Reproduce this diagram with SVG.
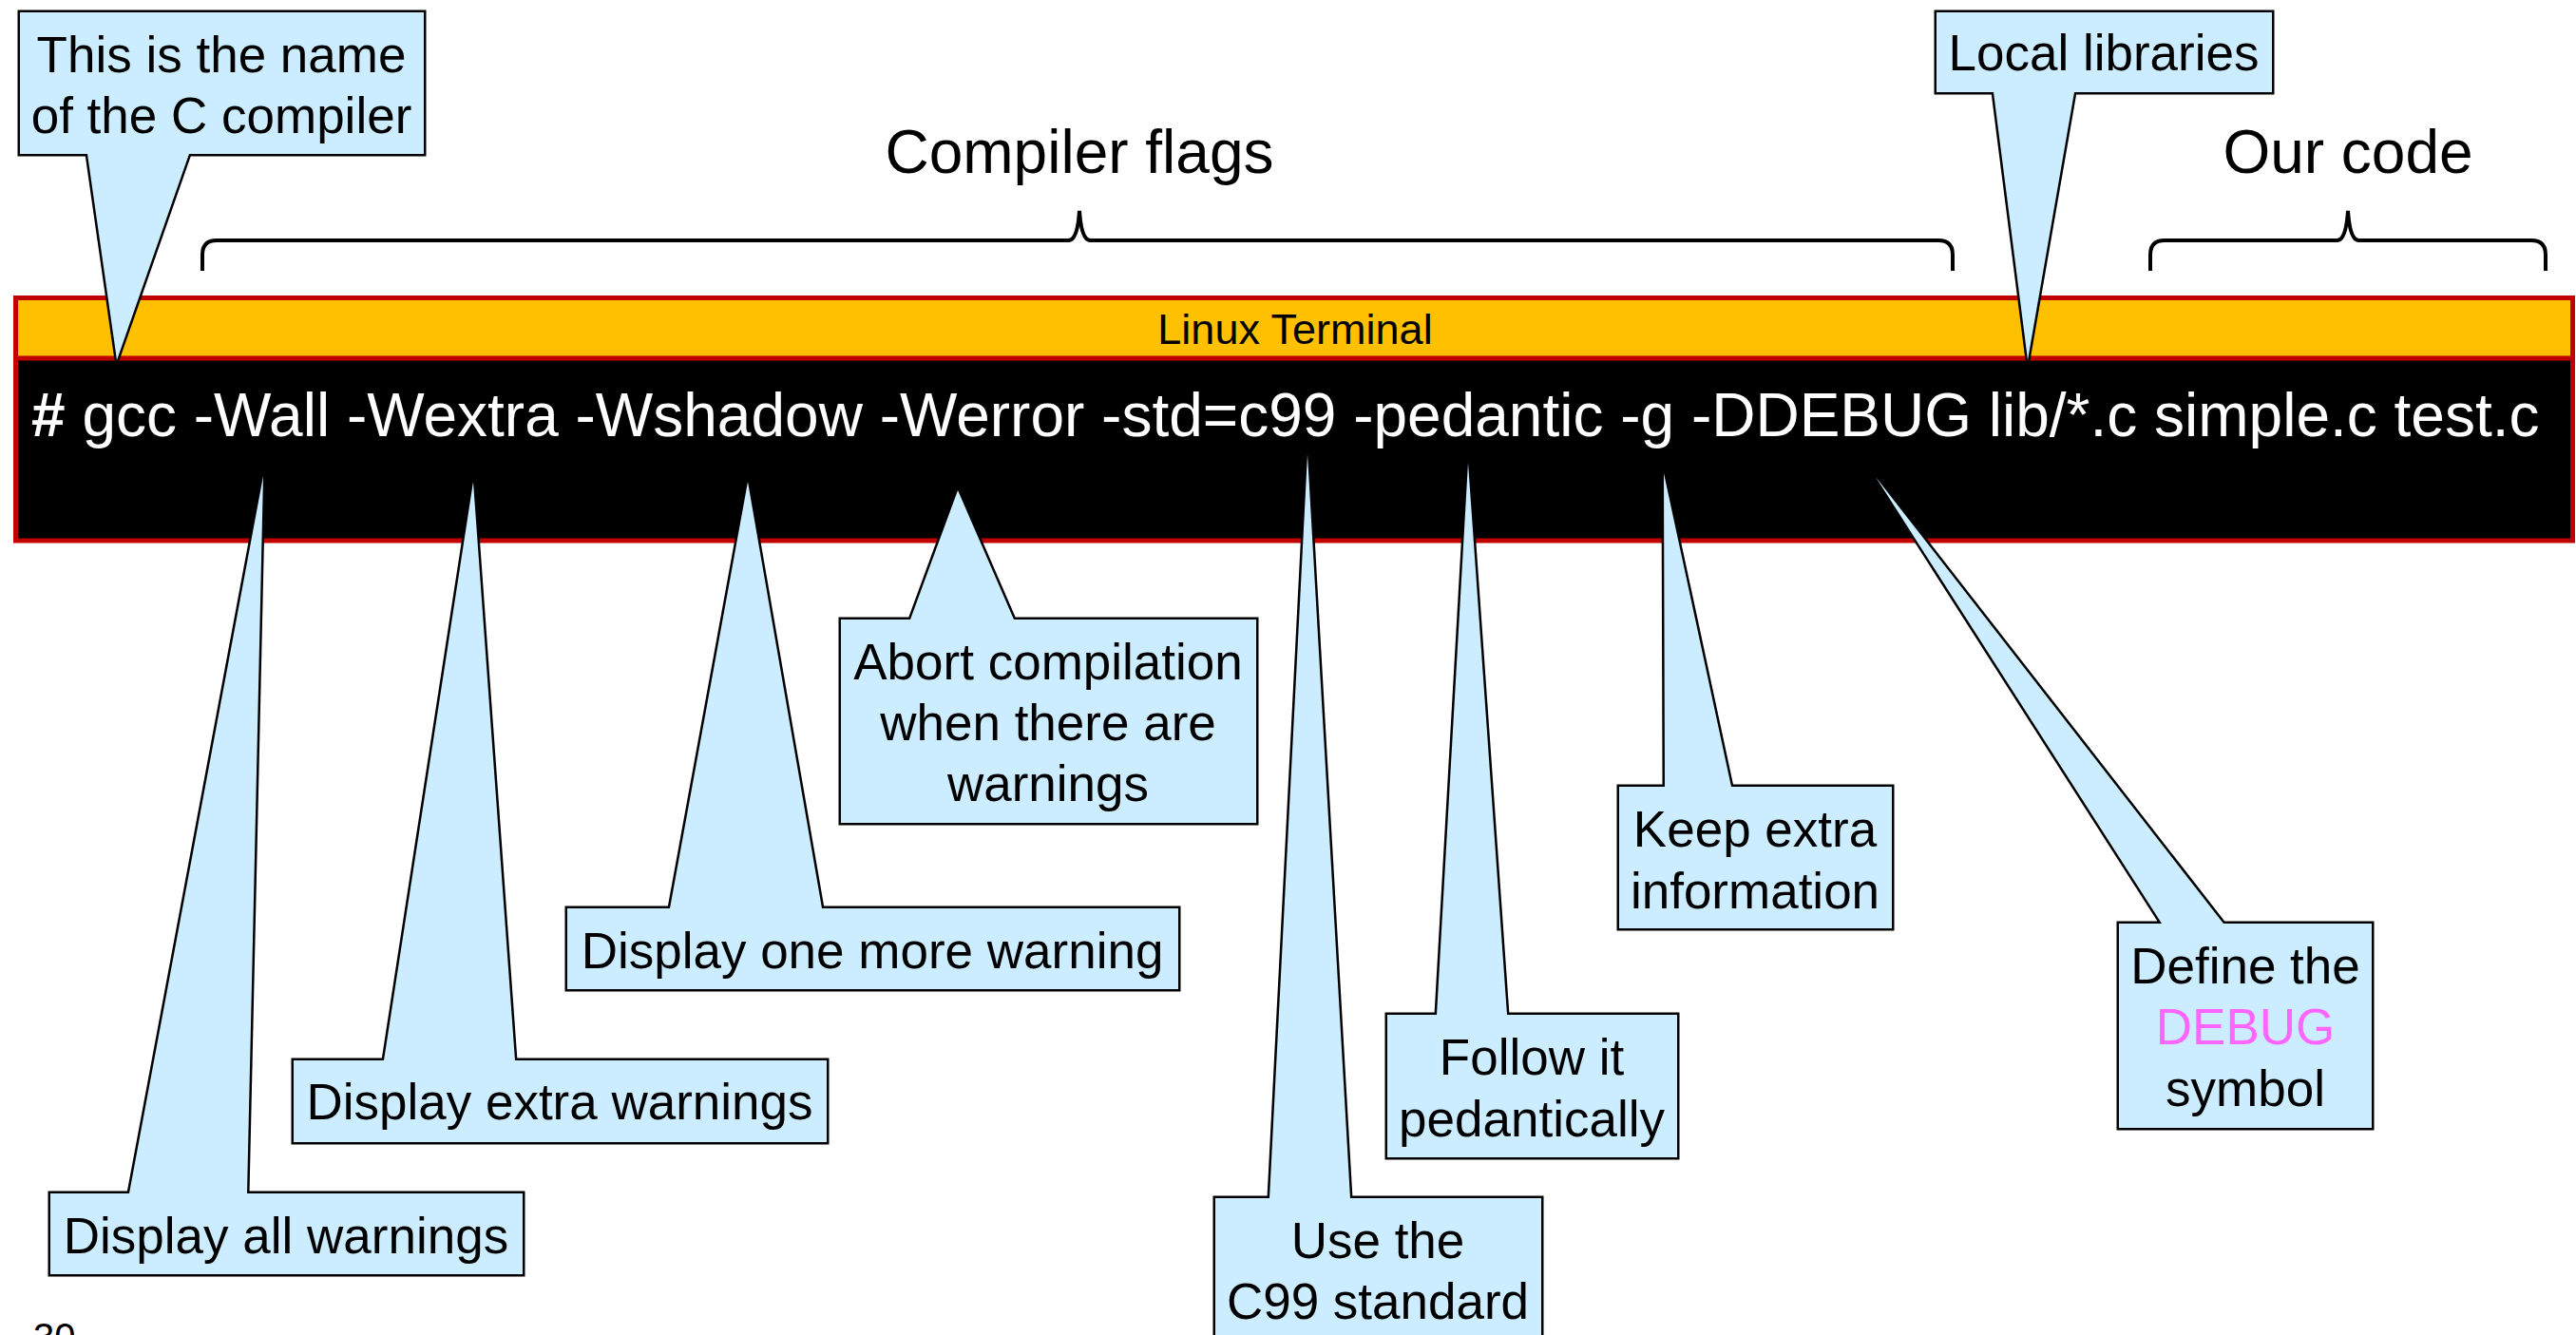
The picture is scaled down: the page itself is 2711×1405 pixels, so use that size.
<svg xmlns="http://www.w3.org/2000/svg" width="2711" height="1405" viewBox="0 0 2711 1405">
  <style>
    /* stroke painted under the fill so the narrow tail tips keep their colour */
    .callout { fill: #CCECFF; stroke: #000000; stroke-width: 5; stroke-linejoin: miter; paint-order: stroke; }
    .note { font-family: "Liberation Sans", Arial, sans-serif; font-size: 53px; fill: #000000; text-anchor: middle; }
    .heading { font-family: "Liberation Sans", Arial, sans-serif; font-size: 64px; fill: #000000; text-anchor: middle; }
    .brace { fill: none; stroke: #000000; stroke-width: 4; stroke-linecap: butt; stroke-linejoin: miter; stroke-miterlimit: 12; }
    .cmd { font-family: "Liberation Sans", Arial, sans-serif; font-size: 64px; fill: #FFFFFF; }
  </style>

  <rect x="0" y="0" width="2711" height="1405" fill="#FFFFFF"/>

  <!-- section headings with braces -->
  <g id="compiler-flags">
    <text class="heading" x="1136" y="182">Compiler flags</text>
    <path class="brace" d="M 213,285 L 213,268 Q 213,253 228,253 L 1125,253 Q 1134,252 1136,222 Q 1138,252 1147,253 L 2040,253 Q 2055,253 2055,268 L 2055,285"/>
  </g>
  <g id="our-code">
    <text class="heading" x="2471" y="182">Our code</text>
    <path class="brace" d="M 2263,285 L 2263,268 Q 2263,253 2278,253 L 2460,253 Q 2469,252 2471,222 Q 2473,252 2482,253 L 2664,253 Q 2679,253 2679,268 L 2679,285"/>
  </g>

  <!-- terminal window -->
  <g id="terminal">
    <rect x="16.5" y="313.5" width="2691" height="64" fill="#FFC000"/>
    <rect x="16.5" y="377" width="2691" height="192" fill="#000000"/>
    <rect x="16.5" y="313.5" width="2691" height="255.5" fill="none" stroke="#C00000" stroke-width="5"/>
    <line x1="16.5" y1="377" x2="2707.5" y2="377" stroke="#C00000" stroke-width="5"/>
    <text x="1363" y="362" font-family="Liberation Sans, Arial, sans-serif" font-size="45" fill="#000000" text-anchor="middle">Linux Terminal</text>
    <text class="cmd" x="33" y="459"><tspan font-weight="bold">#</tspan> gcc -Wall -Wextra -Wshadow -Werror -std=c99 -pedantic -g -DDEBUG lib/*.c simple.c test.c</text>
  </g>

  <!-- callouts above the terminal -->
  <g id="callout-compiler-name">
    <path class="callout" d="M 21,13 L 446,13 L 446,162 L 199,162 L 123,379 L 92,162 L 21,162 Z"/>
    <text class="note" x="233" y="76">This is the name</text>
    <text class="note" x="233" y="140">of the C compiler</text>
  </g>
  <g id="callout-local-libraries">
    <path class="callout" d="M 2038,13 L 2391,13 L 2391,97 L 2183,97 L 2134,379 L 2098,97 L 2038,97 Z"/>
    <text class="note" x="2214" y="74">Local libraries</text>
  </g>

  <!-- callouts below the terminal -->
  <g id="callout-wall">
    <path class="callout" d="M 53,1256 L 136,1256 L 277,501 L 260,1256 L 550,1256 L 550,1341 L 53,1341 Z"/>
    <text class="note" x="301" y="1319">Display all warnings</text>
  </g>
  <g id="callout-wextra">
    <path class="callout" d="M 309,1116 L 404,1116 L 498,507 L 542,1116 L 870,1116 L 870,1202 L 309,1202 Z"/>
    <text class="note" x="589" y="1178">Display extra warnings</text>
  </g>
  <g id="callout-wshadow">
    <path class="callout" d="M 597,956 L 705,956 L 787,507 L 865,956 L 1240,956 L 1240,1041 L 597,1041 Z"/>
    <text class="note" x="918" y="1019">Display one more warning</text>
  </g>
  <g id="callout-werror">
    <path class="callout" d="M 885,652 L 958,652 L 1008,516 L 1067,652 L 1322,652 L 1322,866 L 885,866 Z"/>
    <text class="note" x="1103" y="715">Abort compilation</text>
    <text class="note" x="1103" y="779">when there are</text>
    <text class="note" x="1103" y="843">warnings</text>
  </g>
  <g id="callout-std">
    <path class="callout" d="M 1279,1261 L 1336,1261 L 1376,478 L 1421,1261 L 1622,1261 L 1622,1420 L 1279,1420 Z"/>
    <text class="note" x="1450" y="1324">Use the</text>
    <text class="note" x="1450" y="1388">C99 standard</text>
  </g>
  <g id="callout-pedantic">
    <path class="callout" d="M 1460,1068 L 1512,1068 L 1545,487 L 1586,1068 L 1765,1068 L 1765,1218 L 1460,1218 Z"/>
    <text class="note" x="1612" y="1131">Follow it</text>
    <text class="note" x="1612" y="1196">pedantically</text>
  </g>
  <g id="callout-debug-info">
    <path class="callout" d="M 1704,828 L 1752,828 L 1751,498 L 1822,828 L 1991,828 L 1991,977 L 1704,977 Z"/>
    <text class="note" x="1847" y="891">Keep extra</text>
    <text class="note" x="1847" y="956">information</text>
  </g>
  <g id="callout-define">
    <path class="callout" d="M 2230,972 L 2275,972 L 1974,502 L 2340,972 L 2496,972 L 2496,1187 L 2230,1187 Z"/>
    <text class="note" x="2363" y="1035">Define the</text>
    <text class="note" x="2363" y="1099" style="fill:#FF66FF">DEBUG</text>
    <text class="note" x="2363" y="1164">symbol</text>
  </g>

  <!-- connectors: callout tails are part of the callout shapes -->
  <g id="connectors"/>

  <text x="35" y="1421" font-family="Liberation Sans, Arial, sans-serif" font-size="40" fill="#000000">30</text>
</svg>
